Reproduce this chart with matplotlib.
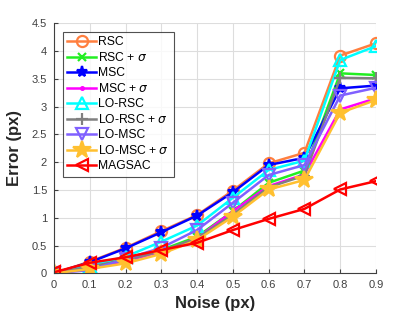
import matplotlib
matplotlib.use("Agg")
import matplotlib.pyplot as plt

noise = [0, 0.1, 0.2, 0.3, 0.4, 0.5, 0.6, 0.7, 0.8, 0.9]
rsc = [0.0, 0.21, 0.46, 0.76, 1.05, 1.49, 1.98, 2.17, 3.92, 4.14]
rsc_s = [0.0, 0.12, 0.25, 0.42, 0.66, 1.12, 1.63, 1.85, 3.60, 3.57]
msc = [0.0, 0.20, 0.45, 0.74, 1.04, 1.46, 1.95, 2.08, 3.33, 3.38]
msc_s = [0.0, 0.10, 0.22, 0.39, 0.63, 1.12, 1.57, 1.78, 2.95, 3.15]
lo_rsc = [0.0, 0.14, 0.30, 0.57, 0.86, 1.36, 1.86, 2.03, 3.84, 4.09]
lo_rsc_s = [0.0, 0.12, 0.24, 0.40, 0.63, 1.06, 1.55, 1.76, 3.52, 3.51]
lo_msc = [0.0, 0.06, 0.26, 0.46, 0.78, 1.27, 1.77, 1.95, 3.20, 3.34]
lo_msc_s = [0.0, 0.08, 0.18, 0.35, 0.60, 1.02, 1.51, 1.68, 2.89, 3.12]
magsac = [0.02, 0.19, 0.29, 0.42, 0.55, 0.78, 0.98, 1.16, 1.51, 1.66]

labels = ["RSC", r"RSC + $\sigma$", "MSC", r"MSC + $\sigma$", "LO-RSC",
          r"LO-RSC + $\sigma$", "LO-MSC", r"LO-MSC + $\sigma$", "MAGSAC"]
series = [rsc, rsc_s, msc, msc_s, lo_rsc, lo_rsc_s, lo_msc, lo_msc_s, magsac]
colors = ["#FF7F3F", "#22EE22", "#0000FF", "#FF00FF", "#00FFFF",
          "#808080", "#8060FF", "#FFC030", "#FF0000"]
markers = ["o", "x", "*", ".", "^", "+", "v", "*", "<"]
msizes = [8, 6, 8, 4, 8, 9, 8, 13, 8]

xticks = [0, 0.1, 0.2, 0.3, 0.4, 0.5, 0.6, 0.7, 0.8, 0.9]
xticklabels = ["0", "0.1", "0.2", "0.3", "0.4", "0.5", "0.6", "0.7", "0.8", "0.9"]
yticks = [0, 0.5, 1, 1.5, 2, 2.5, 3, 3.5, 4, 4.5]
yticklabels = ["0", "0.5", "1", "1.5", "2", "2.5", "3", "3.5", "4", "4.5"]

plt.rcParams['font.family'] = ['Liberation Sans', 'DejaVu Sans']
plt.rcParams['mathtext.fontset'] = 'dejavusans'

fig = plt.figure(figsize=(4.15, 3.11), dpi=100)
ax = fig.add_axes([0.130, 0.121, 0.776, 0.804])

for y, lab, c, m, ms in zip(series, labels, colors, markers, msizes):
    ax.plot(noise, y, color=c, marker=m, markersize=ms, linewidth=1.8,
            markerfacecolor='none' if m in ('o', '^', 'v', '<') else c,
            markeredgewidth=1.6, label=lab)

ax.set_xlim(0, 0.9)
ax.set_ylim(0, 4.5)
ax.set_xticks(xticks)
ax.set_xticklabels(xticklabels)
ax.set_yticks(yticks)
ax.set_yticklabels(yticklabels)
ax.tick_params(direction='in', labelsize=8, colors='#404040', length=3, pad=5)
ax.grid(True, color='#DDDDDD', linewidth=0.8)
ax.set_axisbelow(True)
for s in ['top', 'right']:
    ax.spines[s].set_visible(False)
for s in ['left', 'bottom']:
    ax.spines[s].set_color('#404040')
    ax.spines[s].set_linewidth(0.8)

ax.set_xlabel("Noise (px)", fontsize=12, fontweight='bold', labelpad=4, color='#262626')
ax.set_ylabel("Error (px)", fontsize=12, fontweight='bold', labelpad=7, color='#262626')

leg = ax.legend(loc='upper left', bbox_to_anchor=(0.02, 0.975), fontsize=8.7,
                frameon=True, fancybox=False, edgecolor='#262626',
                handlelength=2.4, handletextpad=0.2, labelspacing=0.25,
                borderpad=0.35, borderaxespad=0.2)
leg.get_frame().set_linewidth(0.8)

fig.savefig("out.png", dpi=100)
